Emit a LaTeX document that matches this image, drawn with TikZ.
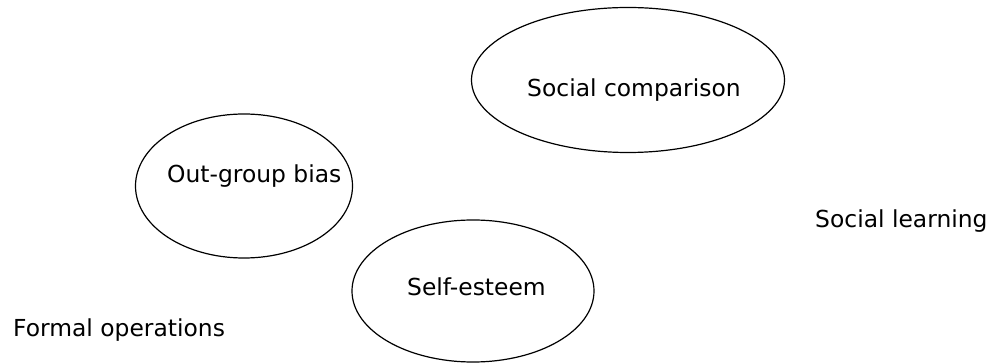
\documentclass[tikz,border=0pt]{standalone}
\usepackage{fontspec}
\setmainfont{DejaVu Sans}
\usetikzlibrary{shapes.geometric}

\begin{document}
\begin{tikzpicture}[x=1pt,y=-1pt,
  bubble/.style={draw=black,ellipse,line width=1.2pt,inner sep=0pt},
  word/.style={anchor=base west,inner sep=0pt,font=\fontsize{23.4}{28}\selectfont}]
\useasboundingbox (0,0) rectangle (994,363);
\node[bubble,minimum width=313pt,minimum height=145pt] (comparison) at (628,80) {};
\node[bubble,minimum width=217pt,minimum height=144pt] (outgroup) at (244,186) {};
\node[bubble,minimum width=242pt,minimum height=142pt] (esteem) at (473,291) {};
\node[word] (comparisontext) at (527,97) {Social comparison};
\node[word] (outgrouptext) at (167,183) {Out-group bias};
\node[word] (esteemtext) at (407,296) {Self-esteem};
\node[word] (learning) at (815,228) {Social learning};
\node[word] (formal) at (13,337) {Formal operations};
\end{tikzpicture}
\end{document}
